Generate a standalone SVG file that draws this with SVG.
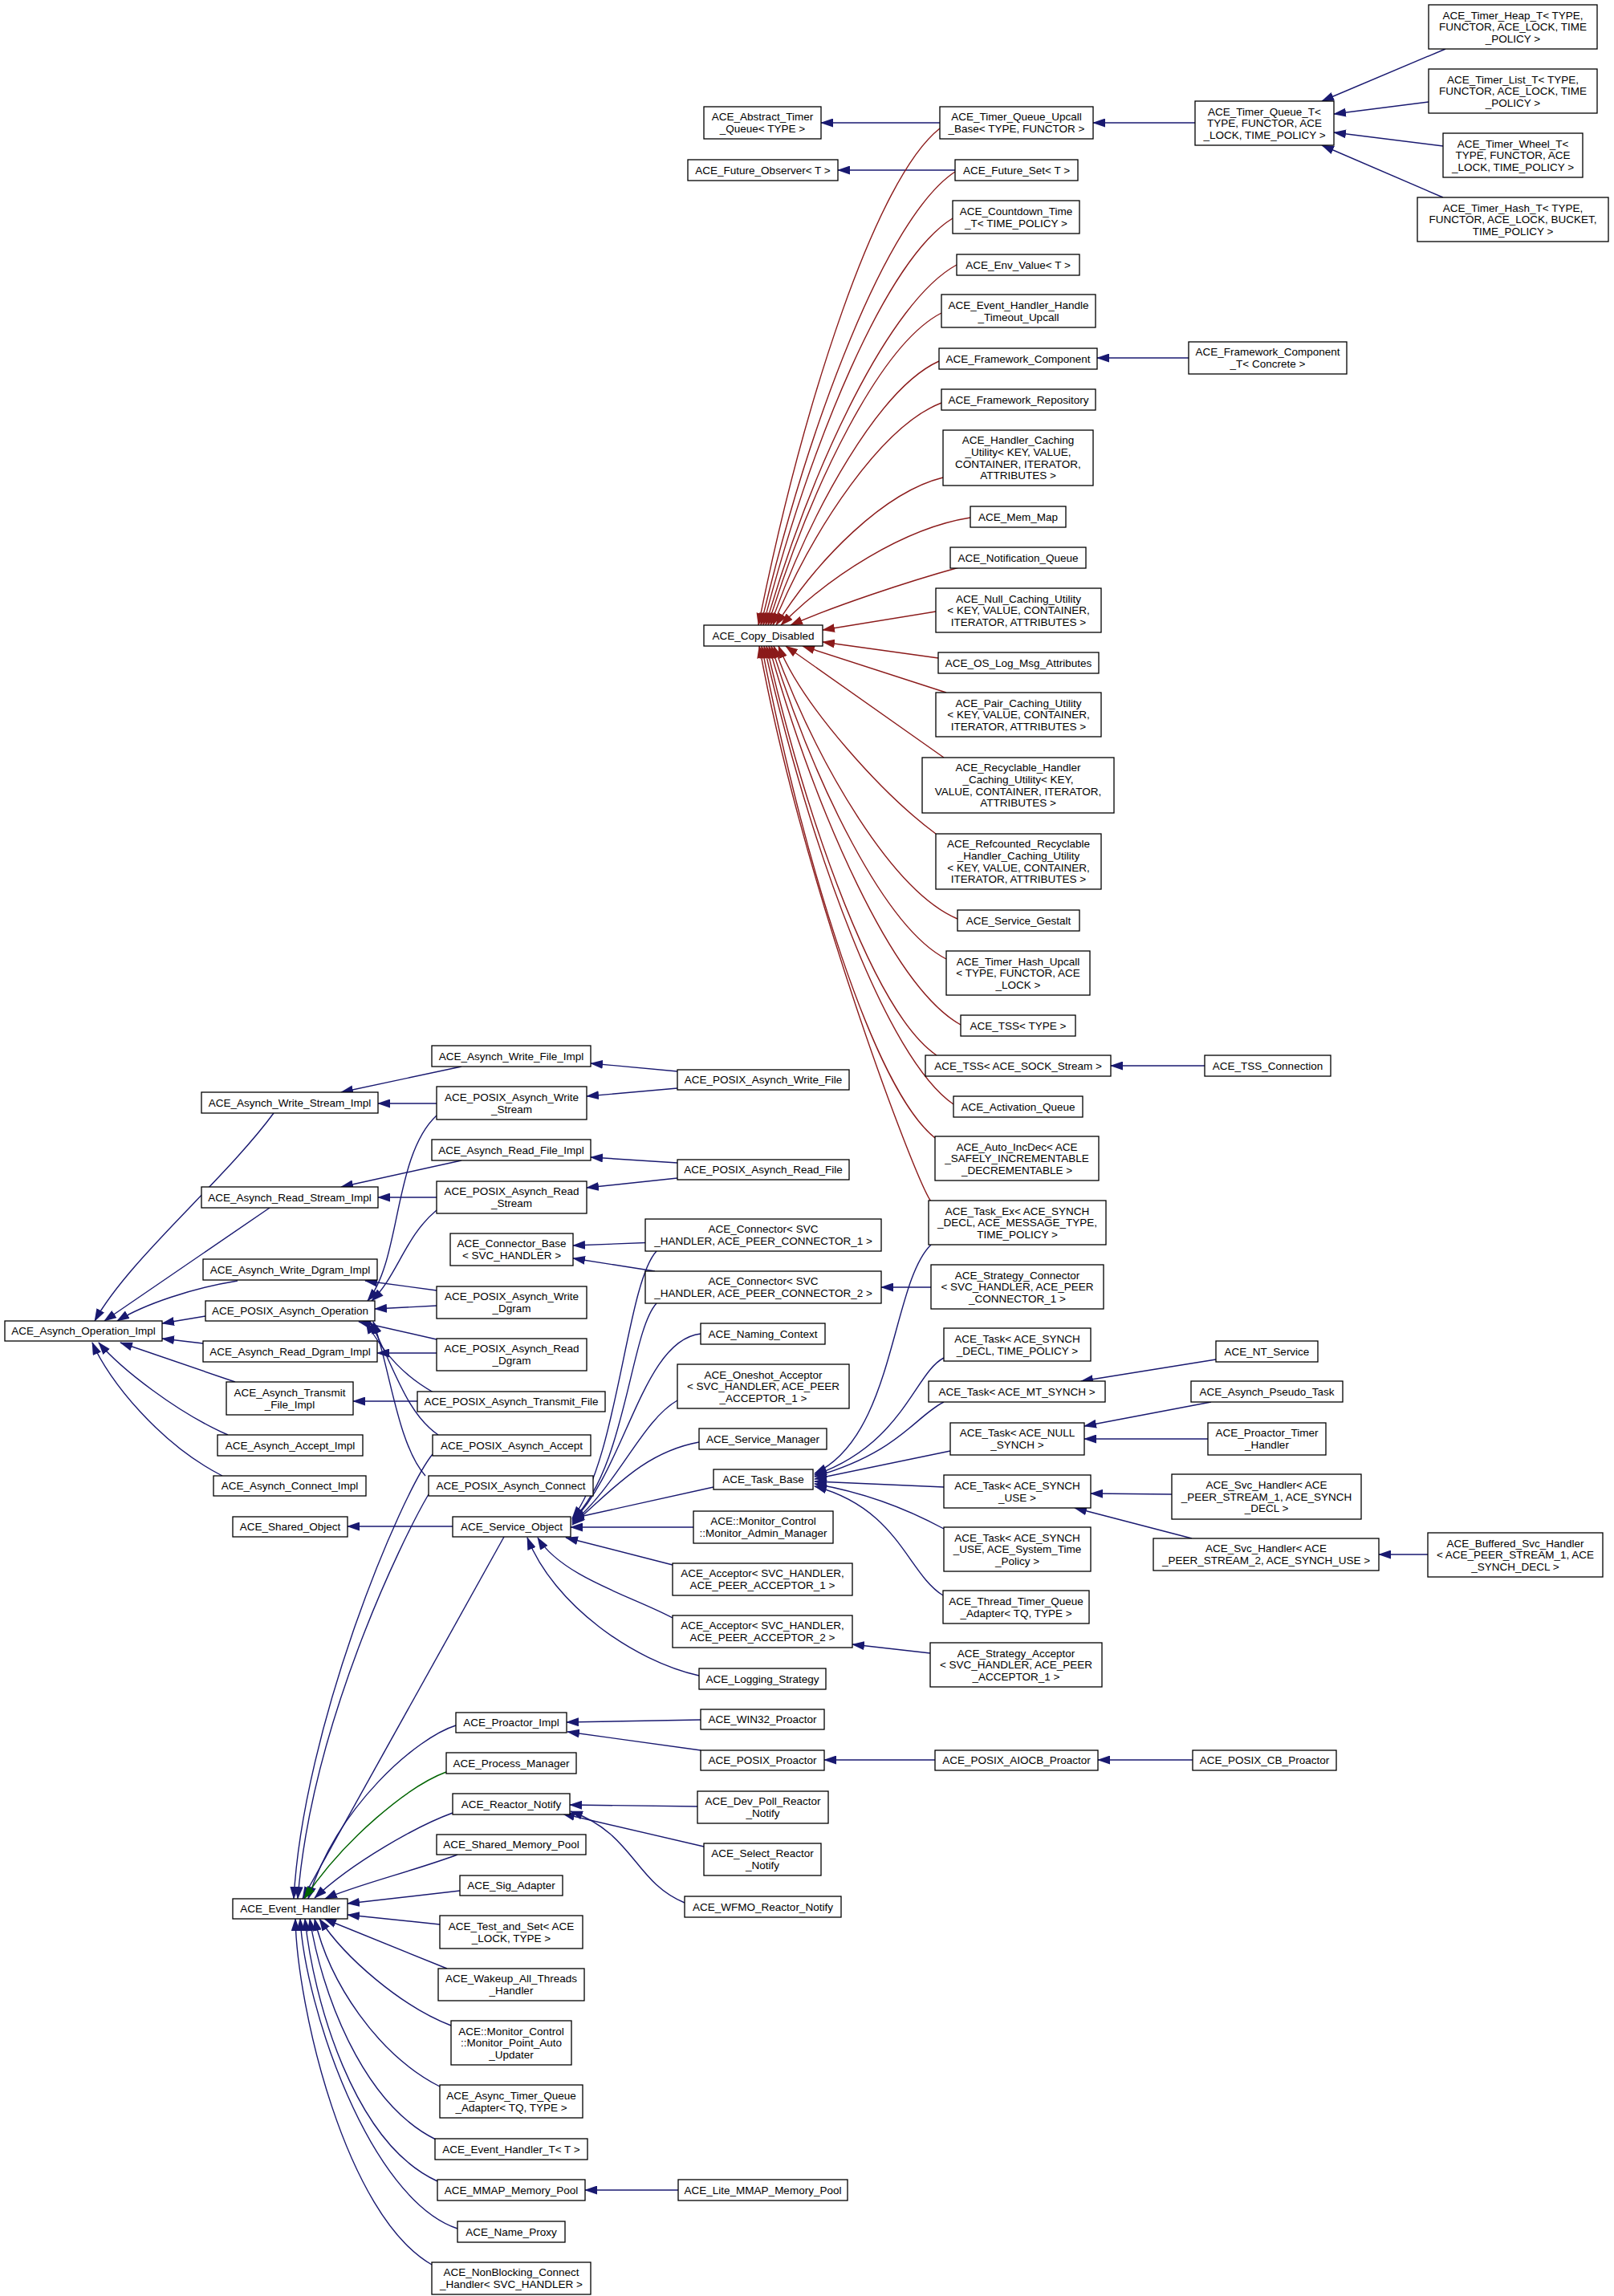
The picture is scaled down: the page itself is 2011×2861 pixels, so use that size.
<svg xmlns="http://www.w3.org/2000/svg" width="2011" height="2861" viewBox="0 0 2011 2861">
<style>
.n rect{fill:#fff;stroke:#000;stroke-width:1.3}
text{font-family:"Liberation Sans",Arial,Helvetica,sans-serif;font-size:13.5px;text-anchor:middle;fill:#000}
.e path{fill:none;stroke-width:1.4}
.e .b{stroke:#191970;marker-end:url(#mb)}
.e .r{stroke:#8b1a1a;marker-end:url(#mr)}
.e .g{stroke:#006400;marker-end:url(#mg)}
</style>
<defs>
<marker id="mb" markerUnits="userSpaceOnUse" markerWidth="16" markerHeight="11" viewBox="0 0 16 11" refX="15" refY="5.5" orient="auto"><path d="M0,0L16,5.5L0,11z" fill="#191970"/></marker>
<marker id="mr" markerUnits="userSpaceOnUse" markerWidth="16" markerHeight="11" viewBox="0 0 16 11" refX="15" refY="5.5" orient="auto"><path d="M0,0L16,5.5L0,11z" fill="#8b1a1a"/></marker>
<marker id="mg" markerUnits="userSpaceOnUse" markerWidth="16" markerHeight="11" viewBox="0 0 16 11" refX="15" refY="5.5" orient="auto"><path d="M0,0L16,5.5L0,11z" fill="#006400"/></marker>
</defs>
<rect width="2011" height="2861" fill="#fff"/>
<g id="edges" class="e">
<path class="b" d="M1171,153L1023,153"/>
<path class="b" d="M1489,153L1362,153"/>
<path class="b" d="M1801,61L1647,126"/>
<path class="b" d="M1780,127L1662,142"/>
<path class="b" d="M1798,182L1662,165"/>
<path class="b" d="M1798,246L1647,181"/>
<path class="b" d="M1190,212L1044,212"/>
<path class="b" d="M1481,446L1367,446"/>
<path class="b" d="M1501,1328L1384,1328"/>
<path class="r" d="M1171,160C1092,222 1001,500 945,779"/>
<path class="r" d="M1190,214C1105,270 1008,525 948,779"/>
<path class="r" d="M1187,272C1104,323 1010,551 951,779"/>
<path class="r" d="M1192,330C1109,375 1013,577 954,779"/>
<path class="r" d="M1173,390C1097,429 1011,604 957,779"/>
<path class="r" d="M1170,450C1097,483 1012,631 960,779"/>
<path class="r" d="M1173,502C1100,530 1015,654 963,779"/>
<path class="r" d="M1175,595C1102,613 1019,696 967,779"/>
<path class="r" d="M1209,645C1126,658 1032,719 973,779"/>
<path class="r" d="M1195,707C1130,725 1040,755 985,779"/>
<path class="r" d="M1166,762L1025,785"/>
<path class="r" d="M1169,820L1025,800"/>
<path class="r" d="M1179,863L1000,805"/>
<path class="r" d="M1176,944L979,805"/>
<path class="r" d="M1166,1039C1100,990 1000,880 970,805"/>
<path class="r" d="M1193,1145C1113,1111 1021,958 964,805"/>
<path class="r" d="M1179,1195C1103,1156 1016,980 961,805"/>
<path class="r" d="M1197,1277C1113,1230 1018,1017 958,805"/>
<path class="r" d="M1167,1315C1092,1264 1008,1035 955,805"/>
<path class="r" d="M1188,1376C1105,1319 1011,1062 952,805"/>
<path class="r" d="M1165,1418C1089,1357 1003,1081 949,805"/>
<path class="r" d="M1160,1497C1140,1470 1000,1100 946,805"/>
<path class="b" d="M575,1329L425,1361"/>
<path class="b" d="M544,1375L471,1375"/>
<path class="b" d="M844,1335L736,1325"/>
<path class="b" d="M844,1356L731,1366"/>
<path class="b" d="M575,1446L425,1479"/>
<path class="b" d="M544,1492L471,1492"/>
<path class="b" d="M844,1449L736,1442"/>
<path class="b" d="M844,1468L731,1480"/>
<path class="b" d="M544,1390C490,1440 500,1570 458,1621"/>
<path class="b" d="M544,1508C505,1540 495,1590 463,1621"/>
<path class="b" d="M818,1548L714,1552"/>
<path class="b" d="M816,1584L714,1568"/>
<path class="b" d="M341,1387C280,1470 160,1570 118,1646"/>
<path class="b" d="M336,1505L130,1646"/>
<path class="b" d="M296,1596C240,1605 180,1625 146,1646"/>
<path class="b" d="M256,1640L202,1649"/>
<path class="b" d="M253,1674L202,1668"/>
<path class="b" d="M293,1722L150,1673"/>
<path class="b" d="M284,1788C220,1760 150,1705 123,1673"/>
<path class="b" d="M277,1839C200,1800 135,1720 115,1673"/>
<path class="b" d="M544,1608L455,1596"/>
<path class="b" d="M544,1627L467,1631"/>
<path class="b" d="M544,1686L470,1686"/>
<path class="b" d="M544,1669L447,1647"/>
<path class="b" d="M520,1746L440,1746"/>
<path class="b" d="M540,1735C505,1715 480,1690 456,1647"/>
<path class="b" d="M546,1788C505,1760 490,1700 461,1647"/>
<path class="b" d="M530,1839C495,1800 485,1700 465,1647"/>
<path class="b" d="M564,1902L433,1902"/>
<path class="b" d="M818,1559C780,1600 770,1820 713,1892"/>
<path class="b" d="M818,1624C785,1660 780,1830 713,1894"/>
<path class="b" d="M873,1662C800,1670 780,1830 713,1896"/>
<path class="b" d="M844,1745C800,1770 770,1850 713,1898"/>
<path class="b" d="M871,1797C800,1810 760,1860 713,1900"/>
<path class="b" d="M889,1853L713,1892"/>
<path class="b" d="M864,1903L711,1903"/>
<path class="b" d="M838,1950L705,1916"/>
<path class="b" d="M838,2016C790,1990 700,1965 670,1916"/>
<path class="b" d="M871,2088C790,2070 690,2000 657,1916"/>
<path class="b" d="M1160,1604L1098,1604"/>
<path class="b" d="M1160,1551C1110,1600 1115,1790 1015,1836"/>
<path class="b" d="M1176,1692C1140,1710 1125,1800 1015,1838"/>
<path class="b" d="M1176,1747C1140,1765 1120,1810 1015,1840"/>
<path class="b" d="M1184,1808L1015,1843"/>
<path class="b" d="M1176,1853L1015,1846"/>
<path class="b" d="M1176,1905C1130,1880 1080,1860 1015,1849"/>
<path class="b" d="M1175,1988C1130,1960 1120,1880 1015,1852"/>
<path class="b" d="M1515,1694L1347,1721"/>
<path class="b" d="M1509,1747L1351,1777"/>
<path class="b" d="M1505,1793L1351,1793"/>
<path class="b" d="M1460,1862L1359,1861"/>
<path class="b" d="M1485,1917L1339,1879"/>
<path class="b" d="M1779,1937L1718,1937"/>
<path class="b" d="M1159,2060L1062,2049"/>
<path class="b" d="M539,1812C500,1860 378,2150 366,2366"/>
<path class="b" d="M534,1862C500,1920 388,2150 371,2366"/>
<path class="b" d="M628,1915L377,2366"/>
<path class="b" d="M568,2150C520,2165 420,2250 384,2366"/>
<path class="g" d="M556,2208C510,2225 430,2290 379,2366"/>
<path class="b" d="M564,2259C520,2275 440,2320 392,2365"/>
<path class="b" d="M570,2311C520,2330 440,2350 405,2366"/>
<path class="b" d="M573,2356L433,2372"/>
<path class="b" d="M548,2398L433,2386"/>
<path class="b" d="M557,2453L404,2391"/>
<path class="b" d="M562,2524C500,2500 430,2440 398,2391"/>
<path class="b" d="M548,2600C470,2560 410,2470 392,2391"/>
<path class="b" d="M543,2666C450,2620 400,2480 386,2391"/>
<path class="b" d="M545,2718C440,2670 390,2490 380,2391"/>
<path class="b" d="M570,2777C460,2740 380,2500 374,2391"/>
<path class="b" d="M538,2822C430,2760 370,2500 368,2391"/>
<path class="b" d="M845,2729L729,2729"/>
<path class="b" d="M873,2143L706,2146"/>
<path class="b" d="M873,2181L707,2158"/>
<path class="b" d="M1165,2193L1027,2193"/>
<path class="b" d="M1486,2193L1368,2193"/>
<path class="b" d="M869,2251L710,2249"/>
<path class="b" d="M877,2301L701,2260"/>
<path class="b" d="M853,2371C790,2345 790,2285 711,2257"/>
</g>
<g id="n_abstq" class="n"><rect x="877" y="133" width="146" height="40"/><text x="950" y="150.4">ACE_Abstract_Timer<tspan x="950" dy="14.7">_Queue&lt; TYPE &gt;</tspan></text></g>
<g id="n_upcall" class="n"><rect x="1171" y="133" width="191" height="40"/><text x="1266.5" y="150.4">ACE_Timer_Queue_Upcall<tspan x="1266.5" dy="14.7">_Base&lt; TYPE, FUNCTOR &gt;</tspan></text></g>
<g id="n_tqt" class="n"><rect x="1489" y="126" width="173" height="55"/><text x="1575.5" y="143.5">ACE_Timer_Queue_T&lt;<tspan x="1575.5" dy="14.7">TYPE, FUNCTOR, ACE</tspan><tspan x="1575.5" dy="14.7">_LOCK, TIME_POLICY &gt;</tspan></text></g>
<g id="n_heap" class="n"><rect x="1780" y="6" width="210" height="55"/><text x="1885" y="23.5">ACE_Timer_Heap_T&lt; TYPE,<tspan x="1885" dy="14.7">FUNCTOR, ACE_LOCK, TIME</tspan><tspan x="1885" dy="14.7">_POLICY &gt;</tspan></text></g>
<g id="n_list" class="n"><rect x="1780" y="86" width="210" height="55"/><text x="1885" y="103.5">ACE_Timer_List_T&lt; TYPE,<tspan x="1885" dy="14.7">FUNCTOR, ACE_LOCK, TIME</tspan><tspan x="1885" dy="14.7">_POLICY &gt;</tspan></text></g>
<g id="n_wheel" class="n"><rect x="1798" y="166" width="174" height="55"/><text x="1885" y="183.5">ACE_Timer_Wheel_T&lt;<tspan x="1885" dy="14.7">TYPE, FUNCTOR, ACE</tspan><tspan x="1885" dy="14.7">_LOCK, TIME_POLICY &gt;</tspan></text></g>
<g id="n_hash" class="n"><rect x="1766" y="246" width="238" height="55"/><text x="1885" y="263.5">ACE_Timer_Hash_T&lt; TYPE,<tspan x="1885" dy="14.7">FUNCTOR, ACE_LOCK, BUCKET,</tspan><tspan x="1885" dy="14.7">TIME_POLICY &gt;</tspan></text></g>
<g id="n_futobs" class="n"><rect x="857" y="199" width="187" height="26"/><text x="950.5" y="216.7">ACE_Future_Observer&lt; T &gt;</text></g>
<g id="n_futset" class="n"><rect x="1190" y="199" width="153" height="26"/><text x="1266.5" y="216.7">ACE_Future_Set&lt; T &gt;</text></g>
<g id="n_countdown" class="n"><rect x="1187" y="250" width="158" height="41"/><text x="1266" y="267.9">ACE_Countdown_Time<tspan x="1266" dy="14.7">_T&lt; TIME_POLICY &gt;</tspan></text></g>
<g id="n_env" class="n"><rect x="1192" y="317" width="153" height="26"/><text x="1268.5" y="334.7">ACE_Env_Value&lt; T &gt;</text></g>
<g id="n_ehhtu" class="n"><rect x="1173" y="367" width="192" height="41"/><text x="1269" y="384.9">ACE_Event_Handler_Handle<tspan x="1269" dy="14.7">_Timeout_Upcall</tspan></text></g>
<g id="n_fc" class="n"><rect x="1170" y="434" width="197" height="26"/><text x="1268.5" y="451.7">ACE_Framework_Component</text></g>
<g id="n_fct" class="n"><rect x="1481" y="426" width="197" height="40"/><text x="1579.5" y="443.4">ACE_Framework_Component<tspan x="1579.5" dy="14.7">_T&lt; Concrete &gt;</tspan></text></g>
<g id="n_fr" class="n"><rect x="1173" y="485" width="192" height="26"/><text x="1269" y="502.7">ACE_Framework_Repository</text></g>
<g id="n_hcu" class="n"><rect x="1175" y="536" width="187" height="69"/><text x="1268.5" y="553.2">ACE_Handler_Caching<tspan x="1268.5" dy="14.7">_Utility&lt; KEY, VALUE,</tspan><tspan x="1268.5" dy="14.7">CONTAINER, ITERATOR,</tspan><tspan x="1268.5" dy="14.7">ATTRIBUTES &gt;</tspan></text></g>
<g id="n_memmap" class="n"><rect x="1209" y="631" width="119" height="26"/><text x="1268.5" y="648.7">ACE_Mem_Map</text></g>
<g id="n_nq" class="n"><rect x="1184" y="682" width="169" height="26"/><text x="1268.5" y="699.7">ACE_Notification_Queue</text></g>
<g id="n_ncu" class="n"><rect x="1166" y="733" width="206" height="55"/><text x="1269" y="750.5">ACE_Null_Caching_Utility<tspan x="1269" dy="14.7">&lt; KEY, VALUE, CONTAINER,</tspan><tspan x="1269" dy="14.7">ITERATOR, ATTRIBUTES &gt;</tspan></text></g>
<g id="n_cd" class="n"><rect x="877" y="779" width="148" height="26"/><text x="951" y="796.7">ACE_Copy_Disabled</text></g>
<g id="n_oslog" class="n"><rect x="1169" y="813" width="200" height="26"/><text x="1269" y="830.7">ACE_OS_Log_Msg_Attributes</text></g>
<g id="n_pcu" class="n"><rect x="1166" y="863" width="206" height="55"/><text x="1269" y="880.5">ACE_Pair_Caching_Utility<tspan x="1269" dy="14.7">&lt; KEY, VALUE, CONTAINER,</tspan><tspan x="1269" dy="14.7">ITERATOR, ATTRIBUTES &gt;</tspan></text></g>
<g id="n_rhcu" class="n"><rect x="1149" y="944" width="239" height="69"/><text x="1268.5" y="961.2">ACE_Recyclable_Handler<tspan x="1268.5" dy="14.7">_Caching_Utility&lt; KEY,</tspan><tspan x="1268.5" dy="14.7">VALUE, CONTAINER, ITERATOR,</tspan><tspan x="1268.5" dy="14.7">ATTRIBUTES &gt;</tspan></text></g>
<g id="n_rrhcu" class="n"><rect x="1166" y="1039" width="206" height="69"/><text x="1269" y="1056.2">ACE_Refcounted_Recyclable<tspan x="1269" dy="14.7">_Handler_Caching_Utility</tspan><tspan x="1269" dy="14.7">&lt; KEY, VALUE, CONTAINER,</tspan><tspan x="1269" dy="14.7">ITERATOR, ATTRIBUTES &gt;</tspan></text></g>
<g id="n_sg" class="n"><rect x="1193" y="1134" width="152" height="26"/><text x="1269" y="1151.7">ACE_Service_Gestalt</text></g>
<g id="n_thu" class="n"><rect x="1179" y="1185" width="179" height="55"/><text x="1268.5" y="1202.5">ACE_Timer_Hash_Upcall<tspan x="1268.5" dy="14.7">&lt; TYPE, FUNCTOR, ACE</tspan><tspan x="1268.5" dy="14.7">_LOCK &gt;</tspan></text></g>
<g id="n_tss" class="n"><rect x="1197" y="1265" width="143" height="26"/><text x="1268.5" y="1282.7">ACE_TSS&lt; TYPE &gt;</text></g>
<g id="n_tsssock" class="n"><rect x="1153" y="1315" width="231" height="26"/><text x="1268.5" y="1332.7">ACE_TSS&lt; ACE_SOCK_Stream &gt;</text></g>
<g id="n_tssconn" class="n"><rect x="1501" y="1315" width="157" height="26"/><text x="1579.5" y="1332.7">ACE_TSS_Connection</text></g>
<g id="n_aq" class="n"><rect x="1188" y="1366" width="161" height="26"/><text x="1268.5" y="1383.7">ACE_Activation_Queue</text></g>
<g id="n_autoinc" class="n"><rect x="1165" y="1416" width="204" height="55"/><text x="1267" y="1433.5">ACE_Auto_IncDec&lt; ACE<tspan x="1267" dy="14.7">_SAFELY_INCREMENTABLE</tspan><tspan x="1267" dy="14.7">_DECREMENTABLE &gt;</tspan></text></g>
<g id="n_taskex" class="n"><rect x="1157" y="1496" width="221" height="55"/><text x="1267.5" y="1513.5">ACE_Task_Ex&lt; ACE_SYNCH<tspan x="1267.5" dy="14.7">_DECL, ACE_MESSAGE_TYPE,</tspan><tspan x="1267.5" dy="14.7">TIME_POLICY &gt;</tspan></text></g>
<g id="n_stratconn" class="n"><rect x="1160" y="1576" width="215" height="55"/><text x="1267.5" y="1593.5">ACE_Strategy_Connector<tspan x="1267.5" dy="14.7">&lt; SVC_HANDLER, ACE_PEER</tspan><tspan x="1267.5" dy="14.7">_CONNECTOR_1 &gt;</tspan></text></g>
<g id="n_taskdecl" class="n"><rect x="1176" y="1655" width="183" height="41"/><text x="1267.5" y="1672.9">ACE_Task&lt; ACE_SYNCH<tspan x="1267.5" dy="14.7">_DECL, TIME_POLICY &gt;</tspan></text></g>
<g id="n_ntsvc" class="n"><rect x="1515" y="1671" width="127" height="26"/><text x="1578.5" y="1688.7">ACE_NT_Service</text></g>
<g id="n_taskmt" class="n"><rect x="1157" y="1721" width="220" height="26"/><text x="1267" y="1738.7">ACE_Task&lt; ACE_MT_SYNCH &gt;</text></g>
<g id="n_pseudo" class="n"><rect x="1484" y="1721" width="189" height="26"/><text x="1578.5" y="1738.7">ACE_Asynch_Pseudo_Task</text></g>
<g id="n_tasknull" class="n"><rect x="1184" y="1773" width="167" height="40"/><text x="1267.5" y="1790.4">ACE_Task&lt; ACE_NULL<tspan x="1267.5" dy="14.7">_SYNCH &gt;</tspan></text></g>
<g id="n_ptimer" class="n"><rect x="1505" y="1773" width="147" height="40"/><text x="1578.5" y="1790.4">ACE_Proactor_Timer<tspan x="1578.5" dy="14.7">_Handler</tspan></text></g>
<g id="n_taskuse" class="n"><rect x="1176" y="1838" width="183" height="41"/><text x="1267.5" y="1855.9">ACE_Task&lt; ACE_SYNCH<tspan x="1267.5" dy="14.7">_USE &gt;</tspan></text></g>
<g id="n_svc1" class="n"><rect x="1460" y="1837" width="236" height="56"/><text x="1578" y="1855">ACE_Svc_Handler&lt; ACE<tspan x="1578" dy="14.7">_PEER_STREAM_1, ACE_SYNCH</tspan><tspan x="1578" dy="14.7">_DECL &gt;</tspan></text></g>
<g id="n_tasksys" class="n"><rect x="1176" y="1903" width="183" height="55"/><text x="1267.5" y="1920.5">ACE_Task&lt; ACE_SYNCH<tspan x="1267.5" dy="14.7">_USE, ACE_System_Time</tspan><tspan x="1267.5" dy="14.7">_Policy &gt;</tspan></text></g>
<g id="n_svc2" class="n"><rect x="1437" y="1917" width="281" height="40"/><text x="1577.5" y="1934.4">ACE_Svc_Handler&lt; ACE<tspan x="1577.5" dy="14.7">_PEER_STREAM_2, ACE_SYNCH_USE &gt;</tspan></text></g>
<g id="n_buffered" class="n"><rect x="1779" y="1910" width="218" height="55"/><text x="1888" y="1927.5">ACE_Buffered_Svc_Handler<tspan x="1888" dy="14.7">&lt; ACE_PEER_STREAM_1, ACE</tspan><tspan x="1888" dy="14.7">_SYNCH_DECL &gt;</tspan></text></g>
<g id="n_ttqa" class="n"><rect x="1175" y="1982" width="182" height="41"/><text x="1266" y="1999.9">ACE_Thread_Timer_Queue<tspan x="1266" dy="14.7">_Adapter&lt; TQ, TYPE &gt;</tspan></text></g>
<g id="n_stratacc" class="n"><rect x="1159" y="2047" width="214" height="55"/><text x="1266" y="2064.5">ACE_Strategy_Acceptor<tspan x="1266" dy="14.7">&lt; SVC_HANDLER, ACE_PEER</tspan><tspan x="1266" dy="14.7">_ACCEPTOR_1 &gt;</tspan></text></g>
<g id="n_aiocb" class="n"><rect x="1165" y="2181" width="203" height="25"/><text x="1266.5" y="2198.2">ACE_POSIX_AIOCB_Proactor</text></g>
<g id="n_cb" class="n"><rect x="1486" y="2181" width="179" height="25"/><text x="1575.5" y="2198.2">ACE_POSIX_CB_Proactor</text></g>
<g id="n_awfi" class="n"><rect x="538" y="1303" width="198" height="26"/><text x="637" y="1320.7">ACE_Asynch_Write_File_Impl</text></g>
<g id="n_pawf" class="n"><rect x="844" y="1333" width="214" height="25"/><text x="951" y="1350.2">ACE_POSIX_Asynch_Write_File</text></g>
<g id="n_awsi" class="n"><rect x="251" y="1361" width="220" height="26"/><text x="361" y="1378.7">ACE_Asynch_Write_Stream_Impl</text></g>
<g id="n_paws" class="n"><rect x="544" y="1354" width="187" height="41"/><text x="637.5" y="1371.9">ACE_POSIX_Asynch_Write<tspan x="637.5" dy="14.7">_Stream</tspan></text></g>
<g id="n_arfi" class="n"><rect x="538" y="1420" width="198" height="26"/><text x="637" y="1437.7">ACE_Asynch_Read_File_Impl</text></g>
<g id="n_parf" class="n"><rect x="844" y="1445" width="214" height="25"/><text x="951" y="1462.2">ACE_POSIX_Asynch_Read_File</text></g>
<g id="n_arsi" class="n"><rect x="251" y="1479" width="220" height="26"/><text x="361" y="1496.7">ACE_Asynch_Read_Stream_Impl</text></g>
<g id="n_pars" class="n"><rect x="544" y="1472" width="187" height="40"/><text x="637.5" y="1489.4">ACE_POSIX_Asynch_Read<tspan x="637.5" dy="14.7">_Stream</tspan></text></g>
<g id="n_cbase" class="n"><rect x="561" y="1537" width="153" height="40"/><text x="637.5" y="1554.4">ACE_Connector_Base<tspan x="637.5" dy="14.7">&lt; SVC_HANDLER &gt;</tspan></text></g>
<g id="n_conn1" class="n"><rect x="804" y="1519" width="294" height="40"/><text x="951" y="1536.4">ACE_Connector&lt; SVC<tspan x="951" dy="14.7">_HANDLER, ACE_PEER_CONNECTOR_1 &gt;</tspan></text></g>
<g id="n_conn2" class="n"><rect x="804" y="1584" width="294" height="40"/><text x="951" y="1601.4">ACE_Connector&lt; SVC<tspan x="951" dy="14.7">_HANDLER, ACE_PEER_CONNECTOR_2 &gt;</tspan></text></g>
<g id="n_awdi" class="n"><rect x="253" y="1569" width="217" height="26"/><text x="361.5" y="1586.7">ACE_Asynch_Write_Dgram_Impl</text></g>
<g id="n_pawd" class="n"><rect x="544" y="1603" width="187" height="40"/><text x="637.5" y="1620.4">ACE_POSIX_Asynch_Write<tspan x="637.5" dy="14.7">_Dgram</tspan></text></g>
<g id="n_pao" class="n"><rect x="256" y="1621" width="211" height="25"/><text x="361.5" y="1638.2">ACE_POSIX_Asynch_Operation</text></g>
<g id="n_aoi" class="n"><rect x="6" y="1646" width="196" height="25"/><text x="104" y="1663.2">ACE_Asynch_Operation_Impl</text></g>
<g id="n_ardi" class="n"><rect x="253" y="1671" width="217" height="26"/><text x="361.5" y="1688.7">ACE_Asynch_Read_Dgram_Impl</text></g>
<g id="n_pard" class="n"><rect x="544" y="1668" width="187" height="40"/><text x="637.5" y="1685.4">ACE_POSIX_Asynch_Read<tspan x="637.5" dy="14.7">_Dgram</tspan></text></g>
<g id="n_atfi" class="n"><rect x="282" y="1722" width="158" height="41"/><text x="361" y="1739.9">ACE_Asynch_Transmit<tspan x="361" dy="14.7">_File_Impl</tspan></text></g>
<g id="n_patf" class="n"><rect x="520" y="1734" width="234" height="25"/><text x="637" y="1751.2">ACE_POSIX_Asynch_Transmit_File</text></g>
<g id="n_naming" class="n"><rect x="873" y="1649" width="155" height="26"/><text x="950.5" y="1666.7">ACE_Naming_Context</text></g>
<g id="n_oneshot" class="n"><rect x="844" y="1700" width="214" height="55"/><text x="951" y="1717.5">ACE_Oneshot_Acceptor<tspan x="951" dy="14.7">&lt; SVC_HANDLER, ACE_PEER</tspan><tspan x="951" dy="14.7">_ACCEPTOR_1 &gt;</tspan></text></g>
<g id="n_aai" class="n"><rect x="271" y="1788" width="181" height="26"/><text x="361.5" y="1805.7">ACE_Asynch_Accept_Impl</text></g>
<g id="n_paa" class="n"><rect x="539" y="1788" width="197" height="26"/><text x="637.5" y="1805.7">ACE_POSIX_Asynch_Accept</text></g>
<g id="n_svcmgr" class="n"><rect x="871" y="1780" width="159" height="26"/><text x="950.5" y="1797.7">ACE_Service_Manager</text></g>
<g id="n_aci" class="n"><rect x="266" y="1839" width="190" height="25"/><text x="361" y="1856.2">ACE_Asynch_Connect_Impl</text></g>
<g id="n_pac" class="n"><rect x="534" y="1839" width="205" height="25"/><text x="636.5" y="1856.2">ACE_POSIX_Asynch_Connect</text></g>
<g id="n_taskbase" class="n"><rect x="889" y="1831" width="124" height="25"/><text x="951" y="1848.2">ACE_Task_Base</text></g>
<g id="n_so" class="n"><rect x="290" y="1890" width="143" height="25"/><text x="361.5" y="1907.2">ACE_Shared_Object</text></g>
<g id="n_svcobj" class="n"><rect x="564" y="1890" width="147" height="25"/><text x="637.5" y="1907.2">ACE_Service_Object</text></g>
<g id="n_mam" class="n"><rect x="864" y="1883" width="174" height="40"/><text x="951" y="1900.4">ACE::Monitor_Control<tspan x="951" dy="14.7">::Monitor_Admin_Manager</tspan></text></g>
<g id="n_acc1" class="n"><rect x="838" y="1948" width="224" height="40"/><text x="950" y="1965.4">ACE_Acceptor&lt; SVC_HANDLER,<tspan x="950" dy="14.7">ACE_PEER_ACCEPTOR_1 &gt;</tspan></text></g>
<g id="n_acc2" class="n"><rect x="838" y="2013" width="224" height="40"/><text x="950" y="2030.4">ACE_Acceptor&lt; SVC_HANDLER,<tspan x="950" dy="14.7">ACE_PEER_ACCEPTOR_2 &gt;</tspan></text></g>
<g id="n_logstrat" class="n"><rect x="871" y="2079" width="158" height="26"/><text x="950" y="2096.7">ACE_Logging_Strategy</text></g>
<g id="n_pimpl" class="n"><rect x="568" y="2134" width="138" height="25"/><text x="637" y="2151.2">ACE_Proactor_Impl</text></g>
<g id="n_win32" class="n"><rect x="873" y="2130" width="154" height="25"/><text x="950" y="2147.2">ACE_WIN32_Proactor</text></g>
<g id="n_pmgr" class="n"><rect x="556" y="2184" width="162" height="26"/><text x="637" y="2201.7">ACE_Process_Manager</text></g>
<g id="n_pposix" class="n"><rect x="873" y="2181" width="154" height="25"/><text x="950" y="2198.2">ACE_POSIX_Proactor</text></g>
<g id="n_rnotify" class="n"><rect x="564" y="2235" width="146" height="26"/><text x="637" y="2252.7">ACE_Reactor_Notify</text></g>
<g id="n_devpoll" class="n"><rect x="869" y="2232" width="163" height="40"/><text x="950.5" y="2249.4">ACE_Dev_Poll_Reactor<tspan x="950.5" dy="14.7">_Notify</tspan></text></g>
<g id="n_shmp" class="n"><rect x="544" y="2286" width="186" height="25"/><text x="637" y="2303.2">ACE_Shared_Memory_Pool</text></g>
<g id="n_select" class="n"><rect x="877" y="2297" width="146" height="40"/><text x="950" y="2314.4">ACE_Select_Reactor<tspan x="950" dy="14.7">_Notify</tspan></text></g>
<g id="n_sig" class="n"><rect x="573" y="2337" width="128" height="25"/><text x="637" y="2354.2">ACE_Sig_Adapter</text></g>
<g id="n_wfmo" class="n"><rect x="853" y="2363" width="195" height="26"/><text x="950.5" y="2380.7">ACE_WFMO_Reactor_Notify</text></g>
<g id="n_eh" class="n"><rect x="290" y="2366" width="143" height="25"/><text x="361.5" y="2383.2">ACE_Event_Handler</text></g>
<g id="n_tas" class="n"><rect x="548" y="2387" width="178" height="41"/><text x="637" y="2404.9">ACE_Test_and_Set&lt; ACE<tspan x="637" dy="14.7">_LOCK, TYPE &gt;</tspan></text></g>
<g id="n_wake" class="n"><rect x="546" y="2453" width="182" height="40"/><text x="637" y="2470.4">ACE_Wakeup_All_Threads<tspan x="637" dy="14.7">_Handler</tspan></text></g>
<g id="n_mpau" class="n"><rect x="562" y="2518" width="150" height="55"/><text x="637" y="2535.5">ACE::Monitor_Control<tspan x="637" dy="14.7">::Monitor_Point_Auto</tspan><tspan x="637" dy="14.7">_Updater</tspan></text></g>
<g id="n_atqa" class="n"><rect x="548" y="2598" width="178" height="41"/><text x="637" y="2615.9">ACE_Async_Timer_Queue<tspan x="637" dy="14.7">_Adapter&lt; TQ, TYPE &gt;</tspan></text></g>
<g id="n_eht" class="n"><rect x="542" y="2665" width="190" height="26"/><text x="637" y="2682.7">ACE_Event_Handler_T&lt; T &gt;</text></g>
<g id="n_mmap" class="n"><rect x="545" y="2716" width="184" height="26"/><text x="637" y="2733.7">ACE_MMAP_Memory_Pool</text></g>
<g id="n_lite" class="n"><rect x="845" y="2716" width="211" height="26"/><text x="950.5" y="2733.7">ACE_Lite_MMAP_Memory_Pool</text></g>
<g id="n_nameproxy" class="n"><rect x="570" y="2768" width="134" height="26"/><text x="637" y="2785.7">ACE_Name_Proxy</text></g>
<g id="n_nbch" class="n"><rect x="538" y="2819" width="198" height="40"/><text x="637" y="2836.4">ACE_NonBlocking_Connect<tspan x="637" dy="14.7">_Handler&lt; SVC_HANDLER &gt;</tspan></text></g>
</svg>
